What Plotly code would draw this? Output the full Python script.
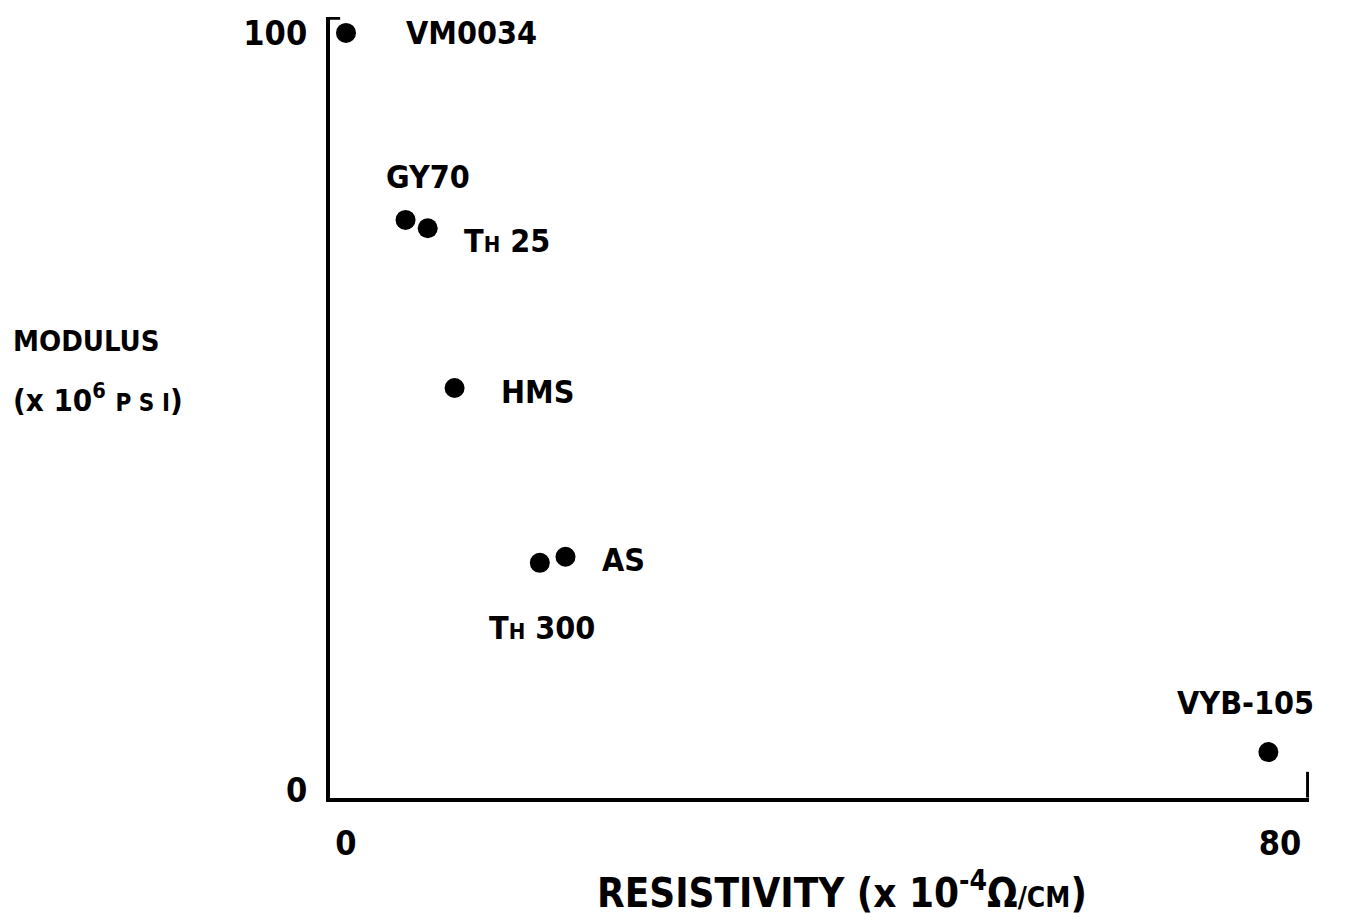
import plotly.graph_objects as go

# Data
names = ["VM0034", "GY70", "TH25", "HMS", "AS", "TH300", "VYB-105"]
resistivity = [0.0, 5.1, 7.0, 9.3, 18.8, 16.6, 79.0]
modulus = [100.0, 75.3, 74.2, 53.1, 30.8, 30.0, 5.0]
labels = ["VM0034", "GY70", "T<span style='font-size:22px'>H</span> 25", "HMS", "AS",
          "T<span style='font-size:22px'>H</span> 300", "VYB-105"]
x_ticks = [0, 80]
y_ticks = [0, 100]

# label placement (pixel offsets relative to point), style only
offsets = {
    "VM0034": dict(xshift=58, yshift=0, xanchor="left"),
    "GY70": dict(xshift=-22, yshift=43, xanchor="left"),
    "TH25": dict(xshift=34, yshift=-13, xanchor="left"),
    "HMS": dict(xshift=44, yshift=-4, xanchor="left"),
    "AS": dict(xshift=34, yshift=-3, xanchor="left"),
    "TH300": dict(xshift=-53, yshift=-65, xanchor="left"),
    "VYB-105": dict(xshift=48, yshift=49, xanchor="right"),
}

FONT = "DejaVu Sans Condensed, Liberation Sans Narrow, sans-serif"

fig = go.Figure()
fig.add_trace(go.Scatter(
    x=resistivity, y=modulus, mode="markers",
    marker=dict(color="black", size=20, line=dict(width=0)),
    hoverinfo="skip", showlegend=False,
))

for n, xv, yv, lab in zip(names, resistivity, modulus, labels):
    o = offsets[n]
    fig.add_annotation(x=xv, y=yv, xref="x", yref="y", text=lab, showarrow=False,
                       xshift=o["xshift"], yshift=o["yshift"], xanchor=o["xanchor"],
                       yanchor="middle", font=dict(size=32, color="black", family=FONT, weight="bold"))

# axis end marks
fig.add_shape(type="line", xref="x", yref="y", x0=82.4, x1=82.4, y0=-1.0, y1=2.4,
              line=dict(color="black", width=4))
fig.add_shape(type="line", xref="x", yref="y", x0=-1.37, x1=-0.5, y0=102.0, y1=102.0,
              line=dict(color="black", width=4))

# axis titles
fig.add_annotation(xref="paper", yref="paper", x=0.523, y=-0.118, showarrow=False,
                   text="RESISTIVITY (x 10<sup>-4</sup>Ω<span style='font-size:28px'>/CM</span>)",
                   font=dict(size=40, color="black", family=FONT, weight="bold"),
                   xanchor="center", yanchor="middle")
fig.add_annotation(xref="paper", yref="paper", x=-0.326, y=0.585, showarrow=False,
                   text="MODULUS", font=dict(size=29, color="black", family=FONT, weight="bold"),
                   xanchor="left", yanchor="middle")
fig.add_annotation(xref="paper", yref="paper", x=-0.326, y=0.512, showarrow=False,
                   text="(x 10<sup>6</sup> <span style='font-size:24px'>P S I</span>)",
                   font=dict(size=31, color="black", family=FONT, weight="bold"),
                   xanchor="left", yanchor="middle")

fig.update_layout(
    width=1349, height=923,
    margin=dict(l=330, r=40, t=17, b=125),
    paper_bgcolor="white", plot_bgcolor="white",
    font=dict(family=FONT, color="black", weight="bold"),
    xaxis=dict(range=[-1.37, 82.48], tickvals=x_ticks, ticktext=[str(v) for v in x_ticks],
               showgrid=False, zeroline=False, showline=True, linecolor="black", linewidth=4,
               ticks="", ticklabelstandoff=12, tickfont=dict(size=34, family=FONT, weight="bold")),
    yaxis=dict(range=[-1.06, 102.1], tickvals=y_ticks, ticktext=[str(v) for v in y_ticks],
               showgrid=False, zeroline=False, showline=True, linecolor="black", linewidth=4,
               ticks="", ticklabelstandoff=12, tickfont=dict(size=34, family=FONT, weight="bold")),
)

fig.write_html("out.html", config={"displayModeBar": False},
               post_script="document.body.style.margin='0';")
